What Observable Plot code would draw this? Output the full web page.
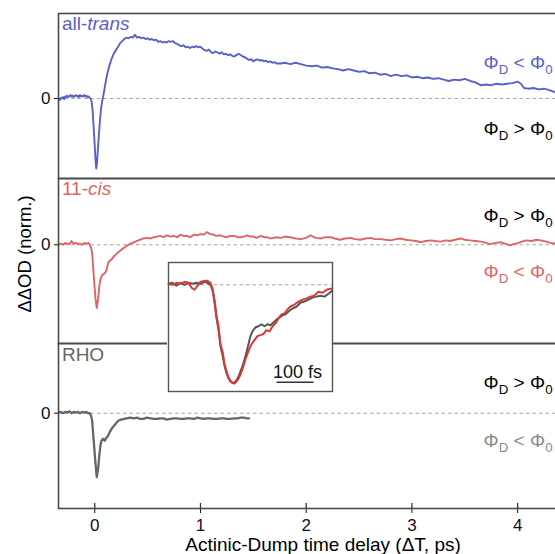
<!DOCTYPE html>
<html><head><meta charset="utf-8">
<script src="https://cdn.jsdelivr.net/npm/d3@7"></script>
<script src="https://cdn.jsdelivr.net/npm/@observablehq/plot@0.6"></script>
<style>
body{margin:0;background:#fff;font-family:"Liberation Sans",Arial,sans-serif}
#chart{position:relative;width:555px;height:554px;overflow:hidden;background:#fff}
#chart svg{position:absolute}
</style>
</head><body><div id="chart"></div>
<script>
// ---------- data (time in ps, normalized ΔΔOD) ----------
const xTicks = [0, 1, 2, 3, 4];
const yTicks = [0];

const allTrans = [
[-0.34,0.00],[-0.33,-0.02],[-0.32,0.01],[-0.31,0.00],[-0.30,0.02],[-0.29,-0.01],[-0.28,0.03],[-0.27,0.02],[-0.26,0.04],[-0.25,0.02],
[-0.24,0.03],[-0.23,0.05],[-0.22,0.03],[-0.21,0.04],[-0.20,0.02],[-0.19,0.04],[-0.18,0.05],[-0.17,0.03],[-0.16,0.04],[-0.15,0.02],
[-0.14,0.05],[-0.13,0.03],[-0.12,0.04],[-0.11,0.03],[-0.10,0.05],[-0.09,0.03],[-0.08,0.04],[-0.07,0.02],[-0.06,0.03],[-0.05,0.01],
[-0.04,0.00],[-0.03,-0.04],[-0.02,-0.18],[-0.01,-0.42],[0.00,-0.68],[0.008,-0.90],[0.014,-1.00],[0.02,-0.95],[0.03,-0.72],[0.04,-0.50],
[0.05,-0.30],[0.06,-0.14],[0.07,-0.04],[0.08,0.03],[0.09,0.12],[0.10,0.21],[0.11,0.29],[0.12,0.36],[0.13,0.42],[0.14,0.48],
[0.15,0.52],[0.16,0.57],[0.18,0.64],[0.20,0.69],[0.22,0.74],[0.24,0.79],[0.26,0.82],[0.28,0.85],[0.30,0.87],[0.32,0.86],
[0.34,0.88],[0.36,0.87],[0.38,0.91],[0.40,0.87],[0.42,0.88],[0.44,0.86],[0.46,0.87],[0.48,0.85],[0.50,0.86],[0.52,0.84],
[0.54,0.85],[0.56,0.83],[0.58,0.84],[0.60,0.81],[0.62,0.82],[0.64,0.80],[0.66,0.81],[0.68,0.80],[0.70,0.82],[0.72,0.81],
[0.74,0.82],[0.76,0.79],[0.78,0.78],[0.80,0.76],[0.82,0.75],[0.84,0.76],[0.86,0.73],[0.88,0.74],[0.90,0.72],[0.92,0.74],
[0.94,0.73],[0.96,0.75],[0.98,0.73],[1.00,0.74],[1.02,0.71],[1.04,0.69],[1.06,0.68],[1.08,0.70],[1.10,0.66],[1.12,0.65],
[1.14,0.67],[1.16,0.66],[1.18,0.64],[1.20,0.66],[1.22,0.63],[1.24,0.64],[1.26,0.62],[1.28,0.63],[1.30,0.61],[1.32,0.60],
[1.34,0.62],[1.36,0.64],[1.38,0.62],[1.40,0.60],[1.42,0.59],[1.44,0.57],[1.46,0.55],[1.48,0.56],[1.50,0.53],[1.52,0.55],
[1.54,0.56],[1.56,0.54],[1.58,0.55],[1.60,0.53],[1.62,0.54],[1.64,0.52],[1.66,0.53],[1.68,0.51],[1.70,0.52],[1.72,0.50],
[1.76,0.50],[1.80,0.51],[1.85,0.49],[1.90,0.51],[1.95,0.49],[2.00,0.47],[2.05,0.46],[2.10,0.47],[2.15,0.44],[2.20,0.45],
[2.25,0.43],[2.30,0.42],[2.35,0.40],[2.40,0.42],[2.45,0.40],[2.50,0.38],[2.55,0.39],[2.60,0.36],[2.65,0.37],[2.70,0.34],
[2.75,0.35],[2.80,0.32],[2.85,0.34],[2.90,0.32],[2.95,0.33],[3.00,0.30],[3.05,0.31],[3.10,0.29],[3.15,0.30],[3.20,0.28],
[3.25,0.29],[3.30,0.27],[3.35,0.25],[3.40,0.27],[3.45,0.26],[3.50,0.28],[3.55,0.25],[3.60,0.23],[3.65,0.19],[3.70,0.20],
[3.75,0.19],[3.80,0.21],[3.85,0.20],[3.90,0.21],[3.95,0.22],[4.00,0.24],[4.03,0.21],[4.06,0.15],[4.10,0.14],[4.15,0.15],
[4.20,0.13],[4.25,0.14],[4.30,0.12],[4.35,0.09],[4.37,0.08]
];

const elevenCis = [
[-0.34,0.01],[-0.32,0.02],[-0.30,0.00],[-0.28,0.03],[-0.26,0.02],[-0.24,0.01],[-0.22,0.06],[-0.20,0.02],[-0.18,0.03],[-0.16,0.01],
[-0.14,0.02],[-0.12,0.00],[-0.10,0.03],[-0.08,0.02],[-0.06,0.03],[-0.047,0.00],[-0.035,-0.05],[-0.025,-0.12],[-0.01,-0.48],[0.007,-0.85],
[0.019,-1.00],[0.032,-0.85],[0.044,-0.64],[0.054,-0.54],[0.07,-0.48],[0.085,-0.46],[0.10,-0.44],[0.11,-0.40],[0.13,-0.27],[0.15,-0.24],
[0.165,-0.22],[0.18,-0.18],[0.196,-0.16],[0.22,-0.12],[0.243,-0.09],[0.265,-0.06],[0.29,-0.03],[0.31,-0.01],[0.338,0.02],[0.36,0.03],
[0.385,0.05],[0.41,0.07],[0.432,0.08],[0.46,0.10],[0.495,0.11],[0.53,0.10],[0.558,0.12],[0.59,0.13],[0.62,0.14],[0.65,0.12],
[0.684,0.15],[0.72,0.13],[0.747,0.14],[0.78,0.12],[0.81,0.16],[0.84,0.14],[0.87,0.14],[0.90,0.12],[0.94,0.16],[0.97,0.15],
[1.00,0.17],[1.03,0.16],[1.06,0.20],[1.09,0.17],[1.12,0.16],[1.15,0.14],[1.19,0.15],[1.22,0.13],[1.25,0.12],[1.28,0.14],
[1.32,0.14],[1.35,0.12],[1.38,0.12],[1.41,0.13],[1.44,0.15],[1.47,0.13],[1.50,0.13],[1.53,0.11],[1.57,0.14],[1.60,0.12],
[1.63,0.12],[1.66,0.10],[1.69,0.11],[1.72,0.12],[1.76,0.11],[1.80,0.13],[1.85,0.12],[1.90,0.10],[1.95,0.09],[2.00,0.11],
[2.04,0.15],[2.09,0.11],[2.14,0.10],[2.18,0.12],[2.23,0.12],[2.27,0.10],[2.32,0.08],[2.37,0.10],[2.42,0.11],[2.46,0.09],
[2.51,0.08],[2.56,0.10],[2.61,0.11],[2.65,0.09],[2.70,0.09],[2.75,0.08],[2.80,0.07],[2.85,0.09],[2.89,0.10],[2.94,0.08],
[2.99,0.07],[3.04,0.06],[3.08,0.04],[3.13,0.06],[3.18,0.07],[3.22,0.06],[3.27,0.05],[3.32,0.07],[3.36,0.06],[3.41,0.08],
[3.46,0.10],[3.50,0.08],[3.55,0.07],[3.60,0.06],[3.65,0.05],[3.70,0.03],[3.74,0.01],[3.79,0.03],[3.84,0.04],[3.88,0.02],
[3.93,-0.01],[3.96,0.01],[3.99,0.02],[4.04,0.05],[4.08,0.07],[4.13,0.06],[4.18,0.08],[4.22,0.07],[4.27,0.05],[4.31,0.03],
[4.35,0.02],[4.37,0.03]
];

const rho = [
[-0.34,0.01],[-0.32,0.02],[-0.30,0.00],[-0.28,0.02],[-0.26,0.01],[-0.24,0.03],[-0.22,0.00],[-0.20,0.02],[-0.18,0.01],[-0.16,0.02],
[-0.14,0.00],[-0.12,0.02],[-0.10,0.01],[-0.08,0.02],[-0.06,0.00],[-0.048,0.00],[-0.035,-0.04],[-0.025,-0.11],[-0.01,-0.43],[0.007,-0.79],
[0.019,-1.00],[0.032,-0.87],[0.044,-0.64],[0.054,-0.50],[0.063,-0.43],[0.079,-0.40],[0.095,-0.43],[0.11,-0.38],[0.12,-0.37],[0.14,-0.30],
[0.165,-0.23],[0.18,-0.20],[0.196,-0.17],[0.21,-0.14],[0.23,-0.11],[0.25,-0.10],[0.275,-0.09],[0.30,-0.08],[0.338,-0.07],[0.37,-0.08],
[0.40,-0.07],[0.43,-0.09],[0.46,-0.09],[0.49,-0.07],[0.527,-0.08],[0.56,-0.09],[0.59,-0.09],[0.62,-0.08],[0.65,-0.08],[0.68,-0.10],
[0.716,-0.09],[0.75,-0.08],[0.78,-0.08],[0.81,-0.09],[0.84,-0.09],[0.87,-0.08],[0.90,-0.08],[0.94,-0.09],[0.97,-0.07],[1.00,-0.08],
[1.03,-0.09],[1.06,-0.08],[1.09,-0.08],[1.12,-0.09],[1.16,-0.09],[1.19,-0.08],[1.22,-0.08],[1.25,-0.09],[1.28,-0.09],[1.32,-0.08],
[1.35,-0.08],[1.38,-0.07],[1.41,-0.07],[1.44,-0.08],[1.46,-0.08]
];

// inset: zoom on the first ~0.4 ps, both normalized to the minimum
const insetRho = [
[-0.162,0.01],[-0.152,0.02],[-0.141,-0.01],[-0.13,0.02],[-0.119,0.00],[-0.108,0.02],[-0.097,0.01],[-0.086,0.02],[-0.076,0.01],[-0.065,0.03],
[-0.057,0.02],[-0.049,0.00],[-0.043,-0.06],[-0.038,-0.18],[-0.033,-0.33],[-0.027,-0.46],[-0.022,-0.62],[-0.016,-0.72],[-0.011,-0.82],[-0.006,-0.89],
[0.000,-0.95],[0.005,-0.98],[0.011,-0.995],[0.016,-0.99],[0.021,-0.97],[0.027,-0.93],[0.032,-0.88],[0.038,-0.82],[0.046,-0.72],[0.054,-0.60],
[0.059,-0.52],[0.065,-0.47],[0.073,-0.43],[0.081,-0.42],[0.089,-0.40],[0.097,-0.42],[0.105,-0.40],[0.113,-0.41],[0.122,-0.38],[0.13,-0.35],
[0.138,-0.33],[0.146,-0.31],[0.154,-0.30],[0.162,-0.27],[0.173,-0.24],[0.184,-0.22],[0.195,-0.18],[0.205,-0.17],[0.216,-0.15],[0.227,-0.13],
[0.238,-0.12],[0.248,-0.11],[0.259,-0.12],[0.27,-0.09],[0.28,-0.06]
];
const insetCis = [
[-0.162,0.01],[-0.152,0.00],[-0.141,0.02],[-0.13,0.01],[-0.119,0.03],[-0.108,0.02],[-0.10,-0.03],[-0.092,-0.05],[-0.084,-0.01],[-0.076,0.03],
[-0.065,0.04],[-0.057,0.04],[-0.049,0.02],[-0.043,-0.04],[-0.038,-0.15],[-0.033,-0.30],[-0.027,-0.43],[-0.022,-0.60],[-0.016,-0.68],[-0.011,-0.80],
[-0.006,-0.87],[0.000,-0.94],[0.005,-0.97],[0.011,-0.995],[0.016,-1.00],[0.021,-0.98],[0.027,-0.95],[0.032,-0.91],[0.038,-0.85],[0.046,-0.75],
[0.054,-0.67],[0.062,-0.60],[0.07,-0.56],[0.078,-0.52],[0.086,-0.51],[0.094,-0.50],[0.102,-0.46],[0.111,-0.47],[0.119,-0.42],[0.127,-0.39],
[0.135,-0.34],[0.143,-0.30],[0.151,-0.29],[0.159,-0.25],[0.167,-0.22],[0.178,-0.20],[0.189,-0.17],[0.20,-0.15],[0.21,-0.14],[0.221,-0.12],
[0.232,-0.11],[0.243,-0.07],[0.254,-0.08],[0.265,-0.05],[0.275,-0.04],[0.28,-0.04]
];
const scaleBarFs = 100; // length of the inset scale bar, fs

// ---------- layout / style ----------
const FONT = '"Liberation Sans", Arial, sans-serif';
const BLUE = "#5a60c8", RED = "#e06464", GRAY = "#666666";
const X_DOMAIN = [-0.343, 4.377];
const chart = document.getElementById("chart");
const fmt = d => String(d);

function richText(svg, x, y, parts, {anchor = "start", fill = "#000", size = 19} = {}) {
  const t = d3.select(svg).append("text")
    .attr("x", x).attr("y", y).attr("text-anchor", anchor)
    .attr("fill", fill).attr("font-size", size).attr("font-family", FONT);
  let shift = 0;
  for (const p of parts) {
    const s = t.append("tspan").text(p.text);
    const target = p.sub ? Math.round(size * 0.28) : 0;
    if (target !== shift) { s.attr("dy", target - shift); shift = target; }
    if (p.sub) s.attr("font-size", size * 0.7);
    if (p.italic) s.attr("font-style", "italic");
  }
  return t;
}

function panel({top, height, marginTop = 0, marginBottom = 0, yDomain, data, color, sw = 1.9, xAxis = false}) {
  const marks = [
    Plot.ruleY([0], {stroke: "#a5a5a5", strokeDasharray: "3.5,3", strokeWidth: 1.1}),
    Plot.line(data, {x: d => d[0], y: d => d[1], stroke: color, strokeWidth: sw, strokeLinejoin: "round"}),
    Plot.frame({stroke: "#4a4a4a", strokeWidth: 1.6})
  ];
  if (xAxis) {
    // inward half of the x ticks (crossing the axis line)
    const span = yDomain[1] - yDomain[0];
    marks.push(Plot.ruleX(xTicks, {x: d => d, y1: yDomain[0], y2: yDomain[0] + span * 5 / (height - marginTop - marginBottom), stroke: "#333", strokeWidth: 1.3}));
  }
  const p = Plot.plot({
    width: 560, height, marginLeft: 58, marginRight: 3, marginTop, marginBottom,
    style: {fontFamily: FONT, fontSize: "17px", background: "transparent", overflow: "visible", maxWidth: "none", color: "#111"},
    x: {domain: X_DOMAIN, axis: xAxis ? "bottom" : null, ticks: xTicks, tickFormat: fmt, tickSize: 5, tickPadding: 5, label: null},
    y: {domain: yDomain, ticks: yTicks, tickFormat: fmt, tickSize: 4, tickPadding: 4, label: null},
    marks
  });
  p.style.left = "0px"; p.style.top = top + "px";
  chart.appendChild(p);
  return p;
}

const phiParts = (rel) => [{text: "Φ"}, {text: "D", sub: true}, {text: " " + rel + " Φ"}, {text: "0", sub: true}];
function annotate(p, xv, yv, parts, fill, anchor = "end") {
  richText(p, p.scale("x").apply(xv), p.scale("y").apply(yv), parts, {anchor, fill});
}

// panel 1: all-trans
const p1 = panel({top: 0, height: 178, marginTop: 13, yDomain: [-1.143, 1.214], data: allTrans, color: BLUE});
annotate(p1, -0.306, 0.971, [{text: "all-"}, {text: "trans", italic: true}], BLUE, "start");
annotate(p1, 4.335, 0.414, phiParts("<"), BLUE);
annotate(p1, 4.335, -0.529, phiParts(">"), "#000");

// panel 2: 11-cis
const p2 = panel({top: 178, height: 165, yDomain: [-1.557, 1.046], data: elevenCis, color: RED});
annotate(p2, -0.306, 0.778, [{text: "11-"}, {text: "cis", italic: true}], RED, "start");
annotate(p2, 4.335, 0.352, phiParts(">"), "#000");
annotate(p2, 4.335, -0.53, phiParts("<"), RED);
d3.select(p2).append("text").attr("transform", "translate(25,76) rotate(-90)")
  .attr("text-anchor", "middle").attr("dy", "0.35em").attr("font-size", 18.5)
  .attr("font-family", FONT).attr("fill", "#000").text("ΔΔOD (norm.)");

// panel 3: RHO
const p3 = panel({top: 343, height: 211, marginBottom: 46, yDomain: [-1.489, 1.089], data: rho, color: GRAY, sw: 2.3, xAxis: true});
annotate(p3, -0.306, 0.8125, [{text: "RHO"}], GRAY, "start");
annotate(p3, 4.335, 0.3625, phiParts(">"), "#000");
annotate(p3, 4.335, -0.536, phiParts("<"), "#8a8a8a");
d3.select(p3).append("text").attr("x", 323).attr("y", 208)
  .attr("text-anchor", "middle").attr("font-size", 19).attr("font-family", FONT)
  .attr("fill", "#000").text("Actinic-Dump time delay (ΔT, ps)");

// inset
const barStart = 0.131, barEnd = barStart + scaleBarFs / 1000;
const inset = Plot.plot({
  width: 166, height: 131, marginLeft: 1, marginRight: 1, marginTop: 1, marginBottom: 1,
  style: {fontFamily: FONT, fontSize: "18px", background: "#fff", overflow: "visible", maxWidth: "none"},
  x: {domain: [-0.1624, 0.2809], axis: null},
  y: {domain: [-1.081, 0.226], axis: null},
  marks: [
    Plot.ruleY([0], {stroke: "#a5a5a5", strokeDasharray: "3.5,3", strokeWidth: 1.1}),
    Plot.line(insetRho, {x: d => d[0], y: d => d[1], stroke: "#555", strokeWidth: 2}),
    Plot.line(insetCis, {x: d => d[0], y: d => d[1], stroke: "#d83a36", strokeWidth: 2}),
    Plot.ruleY([-0.987], {x1: barStart, x2: barEnd, stroke: "#333", strokeWidth: 1.6}),
    Plot.text([`${scaleBarFs} fs`], {x: (barStart + barEnd) / 2 + 0.005, y: -0.94, text: d => d, lineAnchor: "bottom", fill: "#111", fontSize: 18}),
    Plot.frame({stroke: "#555", strokeWidth: 1.4})
  ]
});
inset.style.left = "167px"; inset.style.top = "261px";
chart.appendChild(inset);
</script></body></html>
